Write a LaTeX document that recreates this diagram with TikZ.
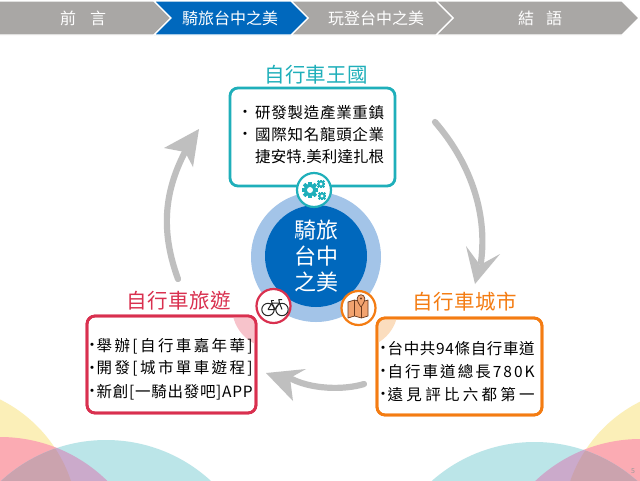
\documentclass[tikz,border=0pt]{standalone}
\usepackage{fontspec}
\setmainfont{Noto Sans CJK TC}
\definecolor{chevgray}{HTML}{A9A7A5}
\definecolor{chevblue}{HTML}{0068BD}
\definecolor{ringblue}{HTML}{A3C4E8}
\definecolor{tealc}{HTML}{1FAFBA}
\definecolor{redc}{HTML}{D9304F}
\definecolor{orangec}{HTML}{F47C12}
\definecolor{arrowgray}{HTML}{BFBFBF}
\definecolor{bgyellow}{HTML}{FBEFB8}
\definecolor{bgpink}{HTML}{FBABB3}
\definecolor{bgteal}{HTML}{BBE5E8}
\definecolor{bgpurple}{HTML}{CBAACB}
\definecolor{bgtriple}{HTML}{CBA3AE}
\definecolor{softred}{HTML}{F7C3CB}
\definecolor{softorange}{HTML}{FBDDBE}
\definecolor{mapfill}{HTML}{F2A36F}
\definecolor{mapline}{HTML}{6B3A1E}
\makeatletter
\newcommand\spreadto[2]{\hbox to #1{\@tfor\sp@c:=#2\do{\sp@c\hskip 0pt plus 1fil}\unskip}}
\makeatother
\tikzset{
  chev/.style={draw=white,line width=1.4pt,line join=miter},
  chevtext/.style={text=white,inner sep=0pt,anchor=base west,font=\fontsize{16}{16}\selectfont},
  titletext/.style={inner sep=0pt,anchor=base west,font=\fontsize{20.5}{20.5}\selectfont},
  bodytext/.style={inner sep=0pt,anchor=base west,text=black,font=\fontsize{15.5}{15.5}\selectfont},
  bullet/.style={inner sep=0pt,anchor=base,text=black,font=\fontsize{15}{15}\selectfont},
  infobox/.style={draw=#1,line width=2.8pt,rounded corners=8pt,fill=white,inner sep=0pt},
  badge/.style={draw=#1,line width=2.2pt,fill=white,circle,minimum size=34pt,inner sep=0pt},
  flow/.style={draw=arrowgray,line width=6.2pt,line cap=round},
  flowhead/.style={fill=arrowgray,draw=none},
  centertext/.style={text=white,inner sep=0pt,anchor=base,font=\fontsize{22}{22}\selectfont}
}
\newcommand\bgset{%
  \fill[bgyellow] (-62,525) circle (140pt);
  \fill[bgpink] (0,590) circle (153pt);
  \fill[bgteal] (106,595) circle (155pt);
  \begin{scope}
    \clip (0,590) circle (153pt);
    \fill[bgpurple] (106,595) circle (155pt);
    \clip (106,595) circle (155pt);
    \fill[bgtriple] (-62,525) circle (140pt);
  \end{scope}
}
\newcommand\cog[4]{% x y r colour
  \fill[#4] (#1,#2) circle (#3*1pt);
  \foreach \a in {0,45,...,315}
    \fill[#4,shift={(#1,#2)},rotate=\a] (-#3*0.28,-#3*1.32) rectangle (#3*0.28,#3*1.32);
  \fill[white] (#1,#2) circle (#3*0.48pt);
}
\begin{document}
\begin{tikzpicture}[x=1pt,y=-1pt]
\useasboundingbox (0,0) rectangle (640,480);
\fill[white] (0,0) rectangle (640,480);
% background circles
\bgset
\begin{scope}[xshift=640.5pt,xscale=-1,yshift=-2pt]
\bgset
\end{scope}
\node[inner sep=0pt,text=black!40,font=\fontsize{7}{7}\selectfont] (pageno) at (633,471) {5};
% chevrons
\filldraw[chev,fill=chevgray] (-3,1) -- (154,1) -- (171,18) -- (154,35) -- (-3,35) -- cycle;
\filldraw[chev,fill=chevgray] (622,1) -- (639,18) -- (622,35) -- (436,35) -- (453,18) -- (436,1) -- cycle;
\filldraw[chev,fill=chevgray] (291,1) -- (436,1) -- (453,18) -- (436,35) -- (291,35) -- (308,18) -- cycle;
\filldraw[chev,fill=chevblue] (154,1) -- (291,1) -- (308,18) -- (291,35) -- (154,35) -- (171,18) -- cycle;
\node[chevtext] (c1) at (60,24) {\spreadto{46pt}{前言}};
\node[chevtext] (c2) at (182,24) {\spreadto{95pt}{騎旅台中之美}};
\node[chevtext] (c3) at (328,24) {\spreadto{95pt}{玩登台中之美}};
\node[chevtext] (c4) at (518,24) {\spreadto{44pt}{結語}};
% flow arrows
\coordinate (a1s) at (435,122);
\coordinate (a1e) at (481,262);
\coordinate (a2s) at (364,384);
\coordinate (a2e) at (288,377);
\coordinate (a3s) at (178,279);
\coordinate (a3e) at (186,150);
\draw[flow] (a1s) .. controls (468,160) and (488,210) .. (a1e);
\fill[flowhead] (475,284) -- (466,246) -- (480,265) -- (500,254) -- cycle;
\draw[flow] (a2s) .. controls (345,390) and (310,390) .. (a2e);
\fill[flowhead] (266,373) -- (306,369) -- (290,378) -- (293,401) -- cycle;
\draw[flow] (a3s) .. controls (162,235) and (162,195) .. (a3e);
\fill[flowhead] (199,129) -- (164,148) -- (185,152) -- (193,167) -- cycle;
% centre
\fill[ringblue] (316,257) circle (65pt);
\fill[chevblue] (316,256) circle (51pt);
\node[centertext] (m1) at (316,238.5) {騎旅};
\node[centertext] (m2) at (316,264.5) {台中};
\node[centertext] (m3) at (316,290.5) {之美};
% boxes
\node[infobox=tealc,minimum width=165pt,minimum height=98pt] (topbox) at (312.5,137) {};
\node[infobox=redc,minimum width=169pt,minimum height=97pt] (leftbox) at (171.5,364.5) {};
\node[infobox=orangec,minimum width=165pt,minimum height=97pt] (rightbox) at (459.5,366.5) {};
\begin{scope}
\clip[rounded corners=8pt] (87,316) rectangle (256,413);
\fill[softred] (273,307) circle (41pt);
\end{scope}
\begin{scope}
\clip[rounded corners=8pt] (377,318) rectangle (542,415);
\fill[softorange] (358,308) circle (40pt);
\end{scope}
\draw[draw=redc,line width=2.8pt,rounded corners=8pt] (87,316) rectangle (256,413);
\draw[draw=orangec,line width=2.8pt,rounded corners=8pt] (377,318) rectangle (542,415);
% titles
\node[titletext,text=tealc] (t1) at (264,82.5) {\spreadto{104pt}{自行車王國}};
\node[titletext,text=redc] (t2) at (126,308.5) {\spreadto{105pt}{自行車旅遊}};
\node[titletext,text=orangec] (t3) at (412,309.5) {\spreadto{105pt}{自行車城市}};
% top box text
\node[bullet] (b11) at (245,117.5) {•};
\node[bodytext] (l11) at (255,118) {\spreadto{129pt}{研發製造產業重鎮}};
\node[bullet] (b12) at (245,139.5) {•};
\node[bodytext] (l12) at (255,140) {\spreadto{129pt}{國際知名龍頭企業}};
\node[bodytext] (l13) at (255,162) {\spreadto{129pt}{捷安特.美利達扎根}};
% left box text
\node[bullet] (b21) at (92,350.5) {•};
\node[bodytext] (l21) at (96.5,351) {\spreadto{156pt}{舉辦[自行車嘉年華]}};
\node[bullet] (b22) at (92,373.5) {•};
\node[bodytext] (l22) at (96.5,373.5) {\spreadto{156pt}{開發[城市單車遊程]}};
\node[bullet] (b23) at (92,396.5) {•};
\node[bodytext] (l23) at (96.5,397) {\spreadto{156pt}{新創[一騎出發吧]APP}};
% right box text
\node[bullet] (b31) at (383,353.5) {•};
\node[bodytext] (l31) at (387.5,354) {\spreadto{147pt}{台中共94條自行車道}};
\node[bullet] (b32) at (383,376.5) {•};
\node[bodytext] (l32) at (387.5,377) {\spreadto{147pt}{自行車道總長780K}};
\node[bullet] (b33) at (383,399.5) {•};
\node[bodytext] (l33) at (387.5,400) {\spreadto{147pt}{遠見評比六都第一}};
% badges
\node[badge=tealc] (gear) at (314,190) {};
\node[badge=redc] (bike) at (273.5,306) {};
\node[badge=orangec] (map) at (358.5,308) {};
% gear icon
\cog{310}{190}{6.2}{tealc}
\cog{321}{184}{3.4}{tealc}
\cog{322}{196}{3.4}{tealc}
% bike icon
\begin{scope}[shift={(275,307)},draw=black!85,line width=1pt,line join=round]
\draw (-7,2.5) circle (6.2pt);
\draw (7,2.5) circle (6.2pt);
\draw (-7,2.5) -- (-3,-4) -- (4.5,-4) -- (7,2.5);
\draw (-7,2.5) -- (0,2.5) -- (4.5,-4);
\draw (-3,-4) -- (0,2.5);
\draw (-4.5,-6.5) -- (-1.5,-6.5);
\draw (-3,-4) -- (-3.6,-6.5);
\draw (4.5,-4) -- (3.8,-7.5) -- (7,-7.5);
\end{scope}
% map icon
\begin{scope}[shift={(358,308)},draw=mapline,line width=.7pt,line join=round]
\filldraw[fill=mapfill] (-10,-6) -- (-3.5,-8) -- (3.5,-6) -- (10,-8) -- (10,8) -- (3.5,10) -- (-3.5,8) -- (-10,10) -- cycle;
\draw (-3.5,-8) -- (-3.5,8) (3.5,-6) -- (3.5,10);
\filldraw[fill=mapfill] (3,-1) .. controls (0,-5) and (-1,-8) .. (-0.8,-9.5) arc (180:0:3.8pt) .. controls (7,-8) and (6,-5) .. (3,-1) -- cycle;
\fill[mapline] (3,-9.5) circle (1.1pt);
\end{scope}
\end{tikzpicture}
\end{document}
